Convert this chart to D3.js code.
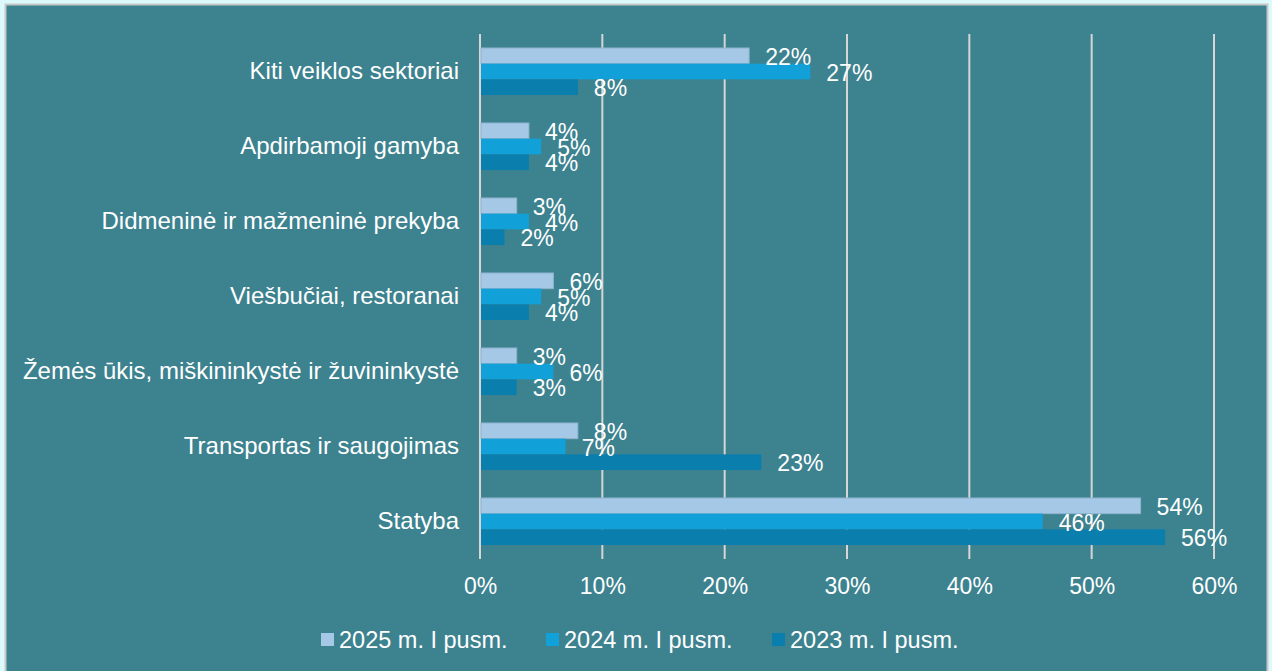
<!DOCTYPE html>
<html>
<head>
<meta charset="utf-8">
<script src="https://cdn.jsdelivr.net/npm/d3@7"></script>
<style>
  html, body { margin: 0; padding: 0; background: #dcf9fb; }
  svg { display: block; }
</style>
</head>
<body>
<svg id="chart" width="1272" height="671"></svg>
<script>
const categories = [
  "Kiti veiklos sektoriai",
  "Apdirbamoji gamyba",
  "Didmeninė ir mažmeninė prekyba",
  "Viešbučiai, restoranai",
  "Žemės ūkis, miškininkystė ir žuvininkystė",
  "Transportas ir saugojimas",
  "Statyba"
];
const seriesNames = ["2025 m. I pusm.", "2024 m. I pusm.", "2023 m. I pusm."];
const values2025 = [22, 4, 3, 6, 3, 8, 54];
const values2024 = [27, 5, 4, 5, 6, 7, 46];
const values2023 = [8, 4, 2, 4, 3, 23, 56];
const tickValues = [0, 10, 20, 30, 40, 50, 60];
const colors = ["#a5c8e7", "#12a0d8", "#0a7fad"];

const seriesValues = [values2025, values2024, values2023];
const svg = d3.select("#chart");
const font = "Arial, 'Liberation Sans', sans-serif";

// background panel with border
svg.append("rect").attr("x", 5.5).attr("y", 4.5).attr("width", 1262).attr("height", 680)
  .attr("fill", "#3d828f").attr("stroke", "#c8c8c8").attr("stroke-width", 2);

const x = d3.scaleLinear().domain([0, 60]).range([480, 1214]);
const y = d3.scaleBand().domain(categories).range([34, 559]).paddingInner(0.373).paddingOuter(0.1865);
const ySub = d3.scaleBand().domain(seriesNames).range([0, y.bandwidth()]);

// gridlines
svg.append("g").selectAll("line").data(tickValues).join("line")
  .attr("x1", d => x(d)).attr("x2", d => x(d))
  .attr("y1", 34).attr("y2", 559)
  .attr("stroke", "#d6d6d6").attr("stroke-width", 2);

// x axis labels
const xAxis = d3.axisBottom(x).tickValues(tickValues).tickFormat(d => d + "%").tickSize(0).tickPadding(0);
const gx = svg.append("g").attr("transform", "translate(0,578)").call(xAxis);
gx.select(".domain").remove();
gx.selectAll("text").attr("fill", "#ffffff").attr("font-family", font).attr("font-size", 23).attr("dy", "0.71em");

// y axis labels
const yAxis = d3.axisLeft(y).tickSize(0).tickPadding(21);
const gy = svg.append("g").attr("transform", "translate(480,0)").call(yAxis);
gy.select(".domain").remove();
gy.selectAll("text").attr("fill", "#ffffff").attr("font-family", font).attr("font-size", 24);

// bars
seriesNames.forEach((s, si) => {
  const g = svg.append("g");
  g.selectAll("rect").data(categories).join("rect")
    .attr("x", x(0) + 1)
    .attr("y", c => y(c) + ySub(s))
    .attr("width", (c, i) => x(seriesValues[si][i]) - x(0) - 1)
    .attr("height", ySub.bandwidth())
    .attr("fill", colors[si])
    .attr("stroke", si === 0 ? "#8db3cf" : "none")
    .attr("stroke-width", si === 0 ? 1 : 0);
});

// data labels
seriesNames.forEach((s, si) => {
  svg.append("g").selectAll("text").data(categories).join("text")
    .attr("x", (c, i) => x(seriesValues[si][i]) + 16)
    .attr("y", c => y(c) + ySub(s) + ySub.bandwidth() / 2 + 1)
    .attr("dy", "0.35em")
    .attr("fill", "#ffffff")
    .attr("font-family", font)
    .attr("font-size", 23)
    .text((c, i) => seriesValues[si][i] + "%");
});

// legend
const legendX = [321, 546, 772];
const lg = svg.append("g");
seriesNames.forEach((s, si) => {
  lg.append("rect").attr("x", legendX[si]).attr("y", 633).attr("width", 13).attr("height", 13).attr("fill", colors[si]);
  lg.append("text")
    .attr("x", legendX[si] + 18).attr("y", 647.5)
    .attr("fill", "#ffffff").attr("font-family", font).attr("font-size", 23.5)
    .text(s);
});
</script>
</body>
</html>
